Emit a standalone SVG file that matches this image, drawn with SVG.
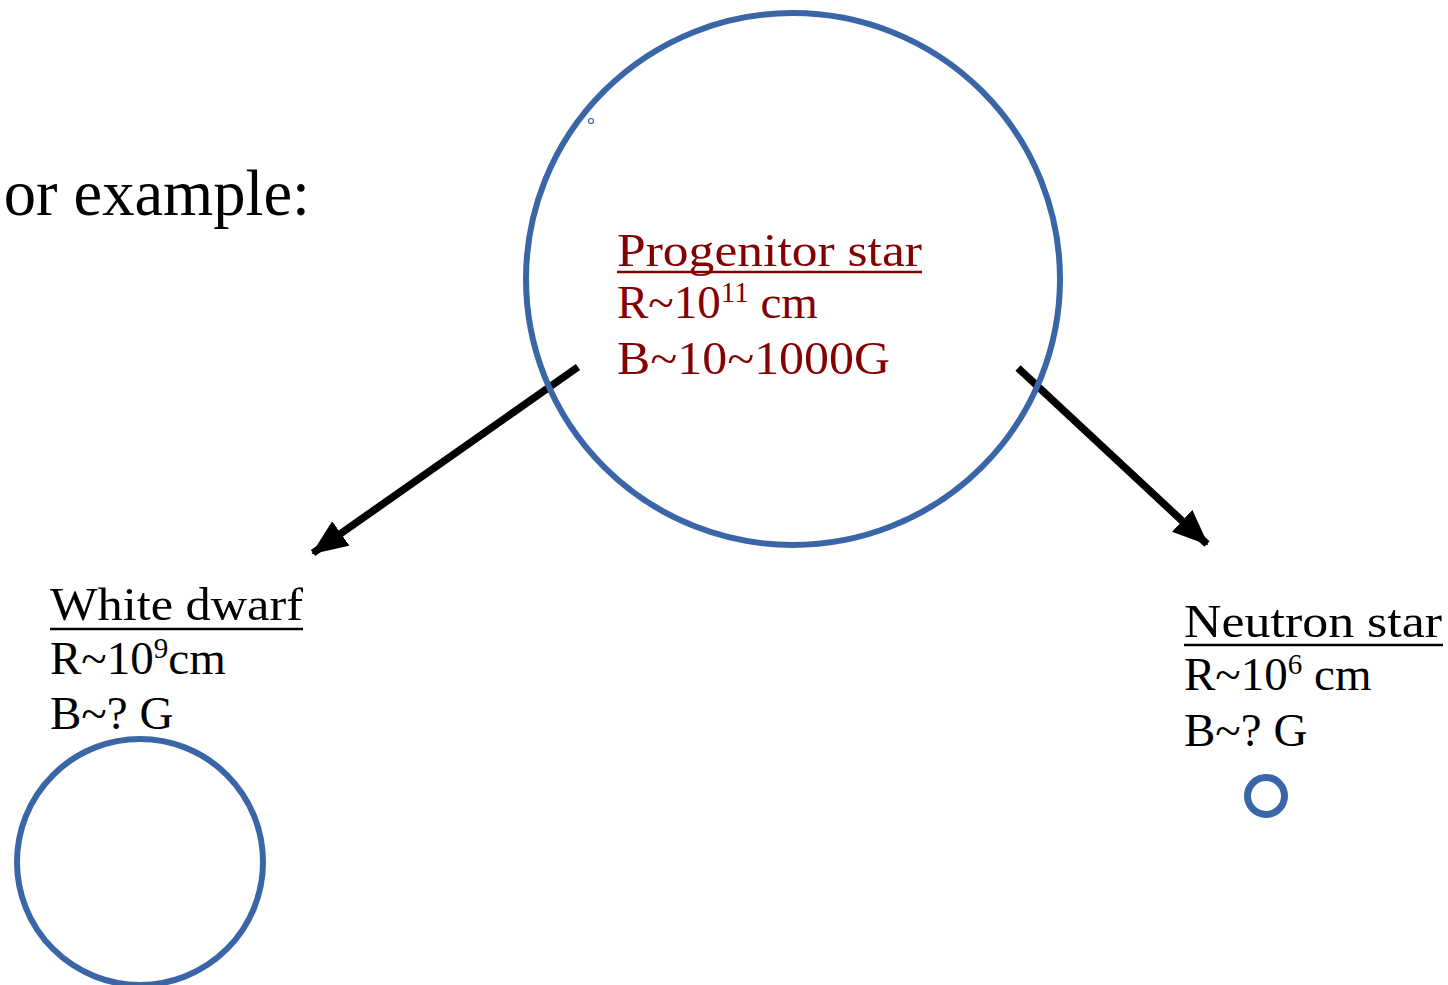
<svg xmlns="http://www.w3.org/2000/svg" width="1448" height="985" viewBox="0 0 1448 985">
<style>
.star{fill:none;stroke:#3a66a7;stroke-width:6}
.t{font-family:"Liberation Serif","DejaVu Serif",serif;font-size:47px;fill:#000}
.red{fill:#850000}
.ul{stroke-width:2.5}
.sup{font-size:29px}
.conn{stroke:#000;stroke-width:7.5;fill:none}
</style>
<defs>
<marker id="ah" markerUnits="userSpaceOnUse" markerWidth="36" markerHeight="30" refX="34" refY="15" orient="auto">
<path d="M0,0 L36,15 L0,30 Z" fill="#000"/>
</marker>
</defs>
<rect width="1448" height="985" fill="#fff"/>
<text class="t" x="310" y="215" text-anchor="end" style="font-size:64.5px">or example:</text>
<g id="connectors">
<line class="conn" x1="578" y1="367" x2="313" y2="553" marker-end="url(#ah)"/>
<line class="conn" x1="1018" y1="368" x2="1207" y2="544" marker-end="url(#ah)"/>
</g>
<g id="progenitor">
<ellipse class="star" cx="793" cy="279" rx="267" ry="266"/>
<circle cx="591" cy="121" r="2.5" fill="none" stroke="#3a66a7" stroke-width="1.2"/>
<text class="t red" x="617" y="266" textLength="305" lengthAdjust="spacingAndGlyphs">Progenitor star</text>
<line x1="617" y1="272" x2="922" y2="272" stroke="#850000" class="ul"/>
<text class="t red" x="617" y="318">R~10<tspan class="sup" dy="-16">11</tspan><tspan dy="16"> cm</tspan></text>
<text class="t red" x="617" y="374" textLength="273" lengthAdjust="spacingAndGlyphs">B~10~1000G</text>
</g>
<g id="white-dwarf">
<text class="t" x="50" y="620" textLength="253" lengthAdjust="spacingAndGlyphs">White dwarf</text>
<line x1="50" y1="629" x2="303" y2="629" stroke="#000" class="ul"/>
<text class="t" x="50" y="674">R~10<tspan class="sup" dy="-16">9</tspan><tspan dy="16">cm</tspan></text>
<text class="t" x="50" y="729">B~? G</text>
<circle class="star" cx="140" cy="862" r="123"/>
</g>
<g id="neutron-star">
<text class="t" x="1184" y="637" textLength="258" lengthAdjust="spacingAndGlyphs">Neutron star</text>
<line x1="1184" y1="645" x2="1443" y2="645" stroke="#000" class="ul"/>
<text class="t" x="1184" y="690">R~10<tspan class="sup" dy="-16">6</tspan><tspan dy="16"> cm</tspan></text>
<text class="t" x="1184" y="746">B~? G</text>
<circle class="star" cx="1266" cy="796" r="18.5" style="stroke-width:7"/>
</g>
</svg>
